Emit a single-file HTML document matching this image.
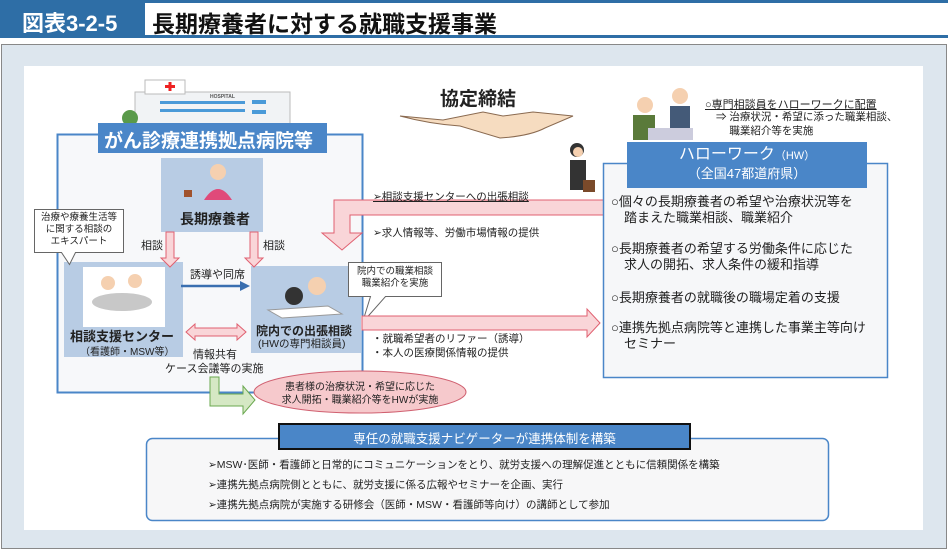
<!DOCTYPE html>
<html><head><meta charset="utf-8"><style>
*{margin:0;padding:0;box-sizing:border-box}
body{width:948px;height:550px;position:relative;background:#fff;font-family:"Liberation Sans","Noto Sans CJK JP",sans-serif;color:#222;overflow:hidden}
.a{position:absolute}
.t{position:absolute;white-space:nowrap}
</style></head><body>
<div class="a" style="left:0;top:0;width:948px;height:38px;background:#2e6ea6"></div>
<div class="a" style="left:145px;top:3px;width:803px;height:32px;background:#fff"></div>
<div class="t" style="left:22px;top:6px;font-size:22px;font-weight:bold;color:#fff">図表3-2-5</div>
<div class="t" style="left:152px;top:5px;font-size:23px;font-weight:bold;color:#111">長期療養者に対する就職支援事業</div>
<div class="a" style="left:1px;top:44px;width:946px;height:505px;background:#dde6ee;border:1px solid #888"></div>
<div class="a" style="left:24px;top:66px;width:899px;height:464px;background:#fff"></div>

<svg class="a" style="left:0;top:0" width="948" height="550">
<rect x="135" y="92" width="155" height="32" fill="#f1f3f5" stroke="#bbb"/>
<rect x="145" y="80" width="40" height="14" fill="#fff" stroke="#bbb"/>
<path d="M170 82v9M165 86.5h10" stroke="#e22" stroke-width="3"/>
<rect x="160" y="101" width="85" height="3" fill="#4a9ad8"/>
<rect x="160" y="109" width="85" height="3" fill="#4a9ad8"/>
<rect x="252" y="100" width="14" height="4" fill="#4a9ad8"/>
<rect x="252" y="110" width="14" height="4" fill="#4a9ad8"/>
<text x="210" y="98" font-size="5" font-weight="bold" fill="#555" font-family="Liberation Sans">HOSPITAL</text>
<circle cx="130" cy="118" r="8" fill="#5a9a4a"/>
<rect x="57.5" y="134.5" width="305" height="258" fill="#f7f8fa" stroke="#4a86c8" stroke-width="2"/>
<rect x="98" y="123" width="229" height="30" fill="#4a86c8"/>
<rect x="161" y="158" width="102" height="74" fill="#b8cce4"/>
<circle cx="218" cy="172" r="8" fill="#f5d0b0"/><path d="M204 200q14-22 28 0z" fill="#e04a7a"/>
<rect x="184" y="190" width="8" height="7" fill="#a0522d"/>
<rect x="64" y="262" width="119" height="95" fill="#b8cce4"/>
<rect x="83" y="267" width="82" height="60" fill="#fff"/>
<ellipse cx="122" cy="302" rx="30" ry="9" fill="#c8c8c8"/>
<circle cx="108" cy="283" r="7" fill="#f5d0b0"/><circle cx="135" cy="281" r="7" fill="#f5d0b0"/>
<rect x="251" y="266" width="110" height="87" fill="#b8cce4"/>
<path d="M268 310l60-4 14 8-60 4z" fill="#fff" stroke="#999"/>
<circle cx="294" cy="296" r="9" fill="#333"/><circle cx="317" cy="286" r="9" fill="#f5d0b0"/>
<path d="M34.5 209.5h89v43h-48l-6 12-8-12h-27z" fill="#fff" stroke="#666"/>
<path d="M348.5 262.5h93v34h-56l-23 26 8-26h-22z" fill="#fff" stroke="#666"/>
<g fill="#f9d5d8" stroke="#e06070">
<path d="M166 232h8v26h5l-9 9-9-9h5z"/>
<path d="M250 232h8v26h5l-9 9-9-9h5z"/>
<path d="M610 200v15h-260v18h12l-20 17-20-17h12v-33z"/>
<path d="M362 316h225v-7l13 14-13 14v-7h-225z"/>
<path d="M186 332l9-8v4h42v-4l9 8-9 8v-4h-42v4z"/>
</g>
<path d="M181 286h60" stroke="#3a6fb0" stroke-width="2.5"/><path d="M250 286l-10-5v10z" fill="#3a6fb0"/>
<path d="M210 377h9v17h24v-8l12 14-12 14v-8h-33z" fill="#d5e8c4" stroke="#6aa84f"/>
<ellipse cx="360" cy="392" rx="106" ry="21" fill="#f6c9cc" stroke="#d06070"/>
<path d="M400 116q30 8 60 10q20 6 40 12q30 -2 45 -10l28 -12-40-4-30 4-20-4-40 8z" fill="#f6dcc0" stroke="#8a6a50"/>
<circle cx="577" cy="150" r="7" fill="#333"/><circle cx="578" cy="152" r="5" fill="#f5d0b0"/>
<rect x="570" y="160" width="16" height="30" fill="#333"/>
<rect x="583" y="180" width="12" height="12" fill="#7a4a2a"/>
<circle cx="645" cy="105" r="8" fill="#f5d0b0"/><rect x="633" y="115" width="22" height="25" fill="#5a7a3a"/>
<circle cx="680" cy="96" r="8" fill="#f5d0b0"/><rect x="670" y="106" width="20" height="26" fill="#445a78"/>
<rect x="648" y="128" width="45" height="12" fill="#ccd"/>
<rect x="603.5" y="163.5" width="284" height="214" fill="#f6f7f9" stroke="#4a86c8" stroke-width="1.5"/>
<rect x="627" y="142" width="240" height="46" fill="#4a86c8"/>
<rect x="146.5" y="438.5" width="682" height="82" rx="6" fill="#f7f7f8" stroke="#4a86c8" stroke-width="1.5"/>
<rect x="279" y="424" width="411" height="25" fill="#4a86c8" stroke="#111" stroke-width="2"/>
</svg>

<div class="t" style="left:104px;top:126px;font-size:19px;font-weight:bold;color:#fff">がん診療連携拠点病院等</div>
<div class="t" style="left:180px;top:209px;font-size:14px;font-weight:bold">長期療養者</div>
<div class="t" style="left:141px;top:237px;font-size:11px">相談</div>
<div class="t" style="left:263px;top:237px;font-size:11px">相談</div>
<div class="t" style="left:35px;top:212px;font-size:9.5px;line-height:12px;text-align:center;width:88px">治療や療養生活等<br>に関する相談の<br>エキスパート</div>
<div class="t" style="left:190px;top:266px;font-size:11px">誘導や同席</div>
<div class="t" style="left:70px;top:326px;font-size:13px;font-weight:bold">相談支援センター</div>
<div class="t" style="left:80px;top:343px;font-size:10px">（看護師・MSW等）</div>
<div class="t" style="left:256px;top:322px;font-size:12px;font-weight:bold">院内での出張相談</div>
<div class="t" style="left:258px;top:336px;font-size:10.5px">(HWの専門相談員)</div>
<div class="t" style="left:352px;top:266px;font-size:9.5px;line-height:12px;text-align:center;width:86px">院内での職業相談<br>職業紹介を実施</div>
<div class="t" style="left:193px;top:346px;font-size:11px">情報共有</div>
<div class="t" style="left:165px;top:360px;font-size:11px">ケース会議等の実施</div>
<div class="t" style="left:278px;top:381px;font-size:10px;line-height:13px;text-align:center;width:164px">患者様の治療状況・希望に応じた<br>求人開拓・職業紹介等をHWが実施</div>
<div class="t" style="left:440px;top:84px;font-size:19px;font-weight:bold">協定締結</div>
<div class="t" style="left:373px;top:189px;font-size:10.5px;text-decoration:underline">➢相談支援センターへの出張相談</div>
<div class="t" style="left:373px;top:225px;font-size:10.5px">➢求人情報等、労働市場情報の提供</div>
<div class="t" style="left:372px;top:332px;font-size:10.5px;line-height:14px">・就職希望者のリファー（誘導）<br>・本人の医療関係情報の提供</div>
<div class="t" style="left:705px;top:96px;font-size:11px;text-decoration:underline">○専門相談員をハローワークに配置</div>
<div class="t" style="left:716px;top:110px;font-size:10.5px;line-height:14px">⇒ 治療状況・希望に添った職業相談、<br>　 職業紹介等を実施</div>
<div class="t" style="left:627px;top:146px;width:240px;text-align:center;font-size:16px;color:#fff;line-height:18px">ハローワーク<span style="font-size:11px">（HW）</span><br><span style="font-size:13px">（全国47都道府県）</span></div>
<div class="t" style="left:611px;top:194px;font-size:13px;line-height:16px">○個々の長期療養者の希望や治療状況等を<br>　踏まえた職業相談、職業紹介</div>
<div class="t" style="left:611px;top:241px;font-size:13px;line-height:16px">○長期療養者の希望する労働条件に応じた<br>　求人の開拓、求人条件の緩和指導</div>
<div class="t" style="left:611px;top:290px;font-size:13px;line-height:16px">○長期療養者の就職後の職場定着の支援</div>
<div class="t" style="left:611px;top:320px;font-size:13px;line-height:16px">○連携先拠点病院等と連携した事業主等向け<br>　セミナー</div>
<div class="t" style="left:279px;top:428px;width:411px;text-align:center;font-size:12.5px;color:#fff">専任の就職支援ナビゲーターが連携体制を構築</div>
<div class="t" style="left:208px;top:455px;font-size:10.5px;line-height:20px">➢MSW･医師・看護師と日常的にコミュニケーションをとり、就労支援への理解促進とともに信頼関係を構築<br>➢連携先拠点病院側とともに、就労支援に係る広報やセミナーを企画、実行<br>➢連携先拠点病院が実施する研修会（医師・MSW・看護師等向け）の講師として参加</div>
</body></html>
